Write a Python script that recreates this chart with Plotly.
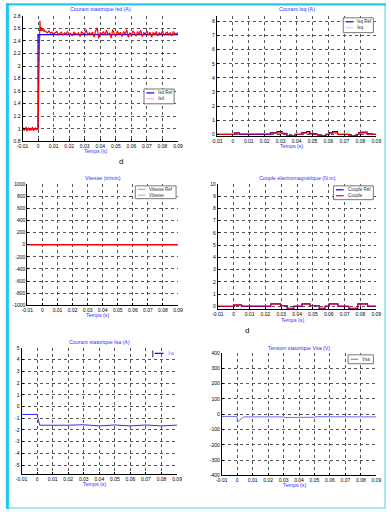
import numpy as np
import plotly.graph_objects as go

W, H = 391, 512

# ---------------- DATA ----------------
time_ticks = [-0.01, 0, 0.01, 0.02, 0.03, 0.04, 0.05, 0.06, 0.07, 0.08, 0.09]
time_labels = ["-0.01", "0", "0.01", "0.02", "0.03", "0.04", "0.05", "0.06", "0.07", "0.08", "0.09"]

# Panel 1: Isd
isd_ref_t = [-0.01, 0.0, 0.0, 0.09]
isd_ref_v = [1.0, 1.0, 2.5, 2.5]
isd_pre_v = [1.00, 0.98, 1.02, 0.97, 1.01, 0.99, 1.03, 0.96, 1.00, 0.98, 1.02, 0.99, 0.97,
             1.01, 1.00, 0.98, 1.03, 0.99, 0.97, 1.01, 0.99, 1.02, 0.98, 1.00, 0.99]
isd_trans_t = [0.0, 0.0002, 0.0005, 0.0008, 0.001, 0.0012, 0.0014, 0.0017, 0.002, 0.0025,
               0.003, 0.0035, 0.004, 0.0045]
isd_trans_v = [1.0, 1.6, 1.62, 2.3, 2.45, 2.72, 2.6, 2.56, 2.62, 2.57, 2.58, 2.56, 2.58, 2.55]
isd_post_v = [2.55, 2.53, 2.56, 2.52, 2.54, 2.51, 2.53, 2.55, 2.50, 2.52,
              2.54, 2.49, 2.53, 2.51, 2.55, 2.50, 2.52, 2.48, 2.54, 2.52,
              2.50, 2.53, 2.47, 2.55, 2.51, 2.52, 2.58, 2.49, 2.53, 2.50,
              2.54, 2.46, 2.56, 2.61, 2.44, 2.53, 2.51, 2.55, 2.49, 2.57,
              2.50, 2.53, 2.45, 2.58, 2.51, 2.48, 2.56, 2.50, 2.54, 2.47,
              2.55, 2.51, 2.58, 2.46, 2.53, 2.49, 2.56, 2.52, 2.48, 2.55,
              2.50, 2.57, 2.47, 2.53, 2.51, 2.56, 2.49, 2.54, 2.46, 2.53,
              2.51, 2.55, 2.48, 2.53, 2.50, 2.56, 2.49, 2.52, 2.54, 2.50,
              2.53, 2.48, 2.55, 2.51, 2.52, 2.53]
isd_t = list(np.linspace(-0.01, -0.0004, len(isd_pre_v))) + isd_trans_t + \
    list(np.linspace(0.005, 0.09, len(isd_post_v)))
isd_v = isd_pre_v + isd_trans_v + isd_post_v

# Panel 2: Isq (step signals)
isq_t = [-0.01, 0.001, 0.004, 0.0236, 0.0277, 0.0308, 0.0339, 0.039, 0.0431, 0.0462, 0.0483,
         0.0524, 0.0534, 0.0585, 0.0606, 0.0626, 0.0657, 0.0729, 0.078, 0.079, 0.0811, 0.0842,
         0.0873, 0.09]
isq_ref_v = [0, 0.1, 0, 0.12, 0.2, 0.07, -0.12, 0, 0.12, 0.2, 0.05, 0, -0.12, 0, 0.12, 0.2, 0,
             -0.12, 0, 0.12, 0.15, 0.05, 0, 0]
isq_v = [0, 0.08, 0.02, 0.08, 0.1, 0.05, -0.1, 0, 0.08, 0.1, 0.03, 0, -0.1, 0, 0.08, 0.1, 0,
         -0.1, 0, 0.1, 0.1, 0.03, 0, 0]

# Panel 3: Vitesse
vit_t = [-0.01, 0.09]
vit_ref_v = [0, 0]
vit_v = [0, 0]

# Panel 4: Couple
cem_t = [-0.01, 0.0005, 0.005, 0.0234, 0.0296, 0.0337, 0.0379, 0.0431, 0.0482, 0.054, 0.0576,
         0.0602, 0.0658, 0.0727, 0.0783, 0.0845, 0.09]
cem_ref_v = [0, 0.1, 0, 0.2, 0.05, -0.2, 0, 0.2, 0.05, -0.2, 0, 0.2, 0, -0.2, 0.2, 0, 0]
cem_v = [0, 0.12, 0.02, 0.18, 0.05, -0.15, 0.02, 0.18, 0.05, -0.15, 0.02, 0.18, 0.02, -0.15,
         0.18, 0.02, 0.02]

# Panel 5: Isa
isa_t = [-0.01, 0.0, 0.0006, 0.0017, 0.02, 0.03, 0.04, 0.05, 0.06, 0.07, 0.08, 0.09]
isa_v = [-0.68, -0.68, -1.0, -1.6, -1.6, -1.56, -1.66, -1.58, -1.66, -1.58, -1.66, -1.59]

# Panel 6: Vsa
vsa_t = [-0.01, -0.0001, 0.0, 0.0003, 0.003, 0.004, 0.03, 0.031, 0.05, 0.051, 0.09]
vsa_v = [-15, -15, -48, -50, -28, -18, -18, -22, -20, -17, -18]

# ---------------- LAYOUT HELPERS ----------------
def xp(px):
    return px / W

def yp(py):
    return 1 - py / H

# panel boxes in px: (left, right, top, bottom)
boxes = [
    (17, 177, 13, 140),
    (217, 381, 13, 135),
    (22, 177, 183, 306),
    (218, 381, 183, 310),
    (16, 176, 349, 477),
    (222, 381, 354, 478),
]
yranges = [[0.8, 2.8], [-0.15, 8.4], [-1000, 1000], [-0.25, 10], [-5.8, 5.0], [-400, 400]]
yticks = [
    [0.8, 1, 1.2, 1.4, 1.6, 1.8, 2, 2.2, 2.4, 2.6, 2.8],
    list(range(0, 9)),
    list(range(-1000, 1001, 200)),
    list(range(0, 11)),
    list(range(-5, 6)),
    list(range(-400, 401, 100)),
]
ytext = [
    ["0.8", "1", "1.2", "1.4", "1.6", "1.8", "2", "2.2", "2.4", "2.6", "2.8"],
    [str(v) for v in yticks[1]],
    [str(v) for v in yticks[2]],
    [str(v) for v in yticks[3]],
    [str(v) for v in yticks[4]],
    [str(v) for v in yticks[5]],
]
titles = ["Courant statorique Isd (A)", "Courant Isq (A)", "Vitesse (tr/min)",
          "Couple électromagnétique (N.m)", "Courant statorique Isa (A)",
          "Tension statorique Vsa (V)"]
title_y = [6, 6, 177, 177, 343, 349]
xtitle_y = [150, 145, 316, 321, 487, 488]

BLUE = "#0000ff"
RED = "#ff0000"
FONT = "Liberation Sans"

fig = go.Figure()

def add(i, t, v, color, width=1.0, shape="linear"):
    ax = "" if i == 0 else str(i + 1)
    fig.add_trace(go.Scatter(x=t, y=v, mode="lines", xaxis="x" + ax, yaxis="y" + ax,
                             line=dict(color=color, width=width, shape=shape),
                             showlegend=False, hoverinfo="skip"))

add(0, isd_ref_t, isd_ref_v, BLUE, 1.3)
add(0, isd_t, isd_v, RED, 1.2)
add(1, isq_t, isq_ref_v, BLUE, 1.2, "hv")
add(1, isq_t, isq_v, RED, 1.2, "hv")
add(2, vit_t, vit_ref_v, BLUE, 1.2)
add(2, vit_t, vit_v, RED, 1.3)
add(3, cem_t, cem_ref_v, BLUE, 1.2, "hv")
add(3, cem_t, cem_v, RED, 1.0, "hv")
add(4, isa_t, isa_v, "#2d2dff", 1.0)
add(5, vsa_t, vsa_v, "#6a6aff", 1.0)

layout = dict(width=W, height=H, margin=dict(l=0, r=0, t=0, b=0),
              paper_bgcolor="white", plot_bgcolor="white",
              font=dict(family=FONT, size=5, color="black"), showlegend=False)

annotations = []
shapes = []
for i, (l, r, t, b) in enumerate(boxes):
    ax = "" if i == 0 else str(i + 1)
    common = dict(showline=True, linecolor="black", linewidth=1, mirror=False,
                  showgrid=True, gridcolor="#555555", griddash="dot", gridwidth=1,
                  zeroline=False, ticks="inside", ticklen=2, tickcolor="black",
                  tickfont=dict(family=FONT, size=5, color="black"), fixedrange=True)
    layout["xaxis" + ax] = dict(domain=[xp(l), xp(r)], range=[-0.01, 0.09],
                                tickvals=time_ticks, ticktext=time_labels,
                                anchor="y" + ax, **common)
    layout["yaxis" + ax] = dict(domain=[yp(b), yp(t)], range=yranges[i],
                                tickvals=yticks[i], ticktext=ytext[i],
                                anchor="x" + ax, **common)
    cx = (l + r) / 2
    annotations.append(dict(text=titles[i], x=xp(cx), y=yp(title_y[i]), xref="paper",
                            yref="paper", showarrow=False, xanchor="center", yanchor="middle",
                            font=dict(family=FONT, size=5.3, color="#3030ff")))
    annotations.append(dict(text="Temps (s)", x=xp(cx - 5), y=yp(xtitle_y[i]), xref="paper",
                            yref="paper", showarrow=False, xanchor="center", yanchor="middle",
                            font=dict(family=FONT, size=5.3, color="#3030ff")))

# legends (drawn manually): box(l, r, t, b), entries [(label, color, y)]
legends = [
    ((142, 173, 87, 102), [("Isd Réf", BLUE, 91), ("Isd", "#ffb0b0", 97)]),
    ((347, 378, 15, 30), [("Isq Réf", BLUE, 19), ("Isq", "#ffc0c0", 25)]),
    ((133, 175, 185, 198), [("Vitesse Réf", "#a0a0ff", 188.5), ("Vitesse", "#ffa0a0", 194.5)]),
    ((337, 378, 185, 199), [("Couple Réf", BLUE, 189), ("Couple", RED, 195)]),
    ((352, 378, 356, 365), [("Vsa", "#8080ff", 360.5)]),
]
for (l, r, t, b), entries in legends:
    shapes.append(dict(type="rect", xref="paper", yref="paper", x0=xp(l), x1=xp(r),
                       y0=yp(b), y1=yp(t), line=dict(color="#777777", width=1),
                       fillcolor="white", layer="above"))
    for label, col, y in entries:
        shapes.append(dict(type="line", xref="paper", yref="paper", x0=xp(l + 2.5), x1=xp(l + 10.5),
                           y0=yp(y), y1=yp(y), line=dict(color=col, width=1.2), layer="above"))
        annotations.append(dict(text=label, x=xp(l + 12.5), y=yp(y), xref="paper", yref="paper",
                                showarrow=False, xanchor="left", yanchor="middle",
                                font=dict(family=FONT, size=4.5, color="#333333")))
# Isa legend (left bar only)
shapes.append(dict(type="line", xref="paper", yref="paper", x0=xp(151), x1=xp(151),
                   y0=yp(358.5), y1=yp(351.5), line=dict(color="#333333", width=1)))
shapes.append(dict(type="line", xref="paper", yref="paper", x0=xp(153), x1=xp(162),
                   y0=yp(354.5), y1=yp(354.5), line=dict(color=BLUE, width=1.2)))
annotations.append(dict(text="Isa", x=xp(165), y=yp(354.5), xref="paper", yref="paper",
                        showarrow=False, xanchor="left", yanchor="middle",
                        font=dict(family=FONT, size=4.5, color="#8080ff")))

# "d" labels
for x, y in [(118, 160), (248, 331)]:
    annotations.append(dict(text="d", x=xp(x), y=yp(y), xref="paper", yref="paper",
                            showarrow=False, xanchor="center", yanchor="middle",
                            font=dict(family=FONT, size=8, color="black")))

# frame
shapes.append(dict(type="rect", xref="paper", yref="paper", x0=xp(0.5), x1=xp(390),
                   y0=yp(511), y1=yp(1), line=dict(color="#8fdcf2", width=1.5)))
shapes.append(dict(type="rect", xref="paper", yref="paper", x0=0, x1=xp(3),
                   y0=0, y1=1, line=dict(width=0), fillcolor="#1ec8f0"))
shapes.append(dict(type="line", xref="paper", yref="paper", x0=0, x1=1,
                   y0=yp(1.5), y1=yp(1.5), line=dict(color="#1ec8f0", width=2)))

layout["annotations"] = annotations
layout["shapes"] = shapes
fig.update_layout(**layout)
fig.write_html("out.html", config={"displayModeBar": False},
               post_script="document.body.style.margin='0';document.body.style.overflow='hidden';")
